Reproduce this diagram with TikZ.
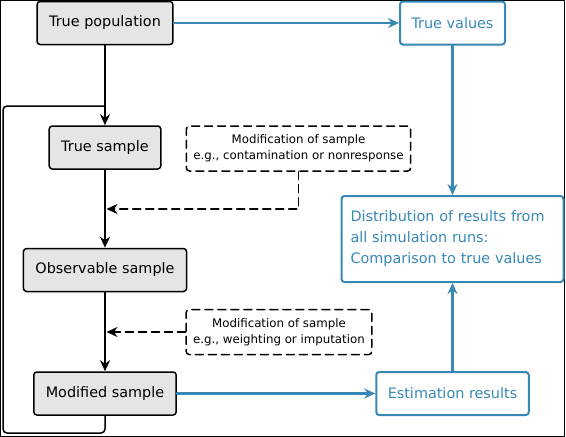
\documentclass[tikz,border=0pt]{standalone}
\usepackage{fontspec}
\setmainfont{DejaVu Sans}
\usetikzlibrary{arrows.meta}
\definecolor{simblue}{RGB}{56,136,182}
\definecolor{boxgray}{gray}{0.9}
\begin{document}
\begin{tikzpicture}[x=1pt, y=-1pt, line join=round, line cap=round,
		>={Stealth[length=11pt,width=10pt]},
		graybox/.style={draw=black, fill=boxgray, rounded corners=3pt, line width=1.5pt,
			minimum height=43pt, inner xsep=12pt, font=\fontsize{14.4}{17}\selectfont},
		bluebox/.style={draw=simblue, text=simblue, rounded corners=3pt, line width=2pt,
			minimum height=43pt, inner xsep=11.5pt, font=\fontsize{14.4}{21}\selectfont},
		modbox/.style={draw=black, dash pattern=on 8pt off 5pt, rounded corners=3pt, line width=1.5pt,
			minimum height=45pt, inner xsep=7pt, align=center, font=\fontsize{11.8}{16}\selectfont},
		blackline/.style={line width=1.5pt},
		blueline/.style={draw=simblue, line width=2.2pt}]
	\useasboundingbox (0,0) rectangle (566,437);
	\draw[line width=1pt] (0.5,0.5) rectangle (564.5,436);
	% sample chain
	\node[graybox] (pop) at (105,23) {True population};
	\node[graybox] (ts) at (105,147.5) {True sample};
	\node[graybox] (os) at (105,270) {Observable sample};
	\node[graybox] (ms) at (105,393.5) {Modified sample};
	% results
	\node[bluebox] (tv) at (452.5,23) {True values};
	\node[bluebox, align=left, text width=204pt, inner xsep=9pt, minimum height=86pt] (dist) at (452.5,239)
		{Distribution of results from\\all simulation runs:\\Comparison to true values};
	\node[bluebox] (est) at (452.5,393.5) {Estimation results};
	% modifications
	\node[modbox] (mod1) at (298.5,148.5) {Modification of sample\\e.g., contamination or nonresponse};
	\node[modbox] (mod2) at (279,332) {Modification of sample\\e.g., weighting or imputation};
	\path
	(106.5,209) coordinate (in1)
	(106.5,332) coordinate (in2)
	(105,106) coordinate (lt)
	(3,106) coordinate (ltl)
	(3,433) coordinate (lbl)
	(105,433) coordinate (lb)
	;
	\draw[blackline,->] (pop) -- (ts);
	\draw[blackline,->] (ts) -- (os);
	\draw[blackline,->] (os) -- (ms);
	\draw[blackline,dash pattern=on 8pt off 5pt,->] (mod1.south) |- (in1);
	\draw[blackline,dash pattern=on 8pt off 5pt,->] (mod2) -- (in2);
	\draw[blackline, rounded corners=4pt] (ms.south) -- (lb) -- (lbl) -- (ltl) -- (lt);
	\draw[blueline,->] (pop) -- (tv);
	\draw[blueline,->] (tv.south) -- (tv.south |- dist.north);
	\draw[blueline,->] (ms) -- (est);
	\draw[blueline,->] (est.north) -- (est.north |- dist.south);
\end{tikzpicture}
\end{document}
